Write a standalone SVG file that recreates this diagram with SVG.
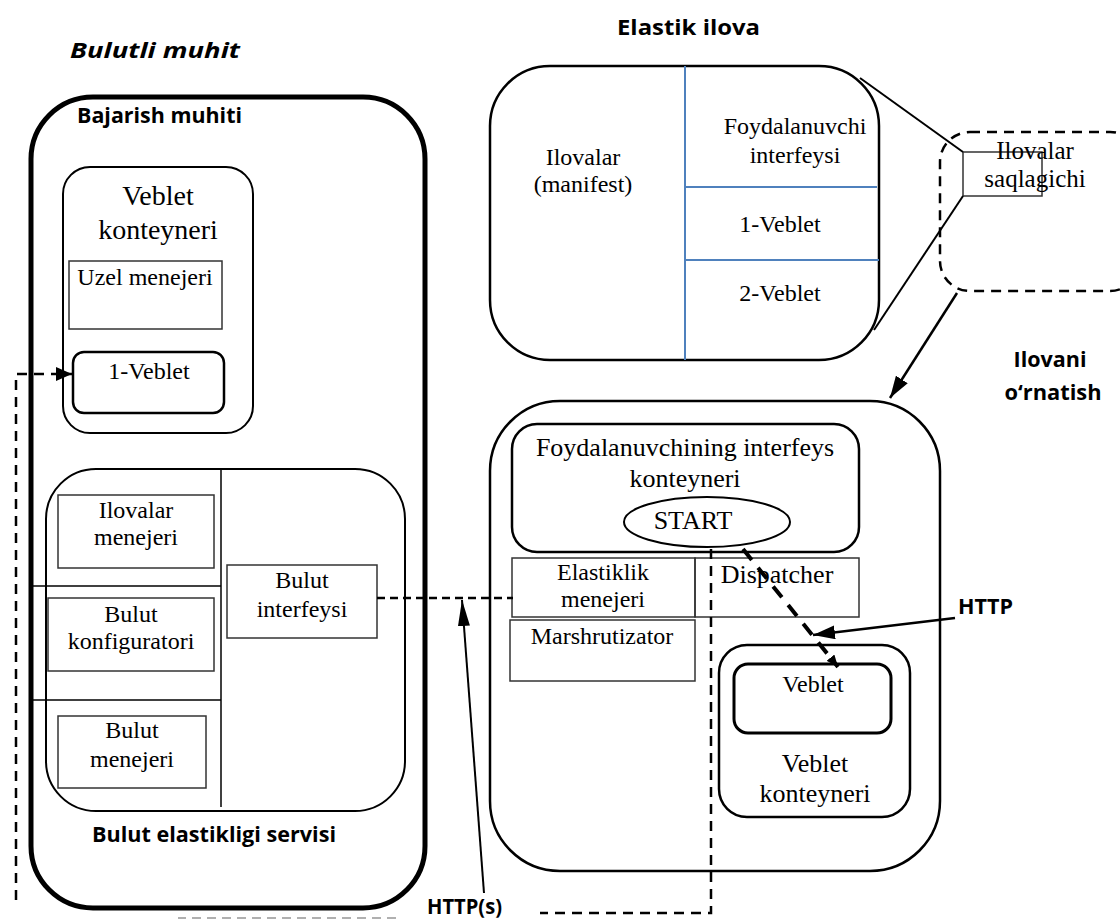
<svg xmlns="http://www.w3.org/2000/svg" width="1120" height="921" viewBox="0 0 1120 921">
<style>
.serif{font-family:"Liberation Serif","Times New Roman",serif;fill:#000;text-anchor:middle}
.s24{font-size:24px}
.s26{font-size:26px}
.s28{font-size:28px}
.bold{font-family:"Open Sans","Liberation Sans",sans-serif;font-weight:bold;fill:#000;font-size:22px}
.rbox{fill:none;stroke:#000;stroke-width:2.5}
.sq{fill:none;stroke:#333;stroke-width:1.5}
.blue{stroke:#4F81BD;stroke-width:2;fill:none}
.thin{fill:none;stroke:#000;stroke-width:1.5}
.dash{fill:none;stroke:#000;stroke-width:2.5;stroke-dasharray:10 7}
.solid{fill:none;stroke:#000;stroke-width:2}
</style>
<defs>
<marker id="ahLong" markerUnits="userSpaceOnUse" markerWidth="26" markerHeight="12" viewBox="0 0 26 12" refX="26" refY="6" orient="auto"><path d="M0,0 L26,6 L0,12 z" fill="#000"/></marker>
<marker id="ahMed" markerUnits="userSpaceOnUse" markerWidth="22" markerHeight="14" viewBox="0 0 22 14" refX="22" refY="7" orient="auto"><path d="M0,0 L22,7 L0,14 z" fill="#000"/></marker>
<marker id="ahSmall" markerUnits="userSpaceOnUse" markerWidth="16" markerHeight="14" viewBox="0 0 16 14" refX="16" refY="7" orient="auto"><path d="M0,0 L16,7 L0,14 z" fill="#000"/></marker>
<marker id="ahTiny" markerUnits="userSpaceOnUse" markerWidth="12" markerHeight="10" viewBox="0 0 12 10" refX="12" refY="5" orient="auto"><path d="M0,0 L12,5 L0,10 z" fill="#000"/></marker>
</defs>
<rect width="1120" height="921" fill="#fff"/>

<g id="title-bulutli-muhit">
<text class="bold" x="70" y="58" font-style="italic" font-size="26" textLength="170" lengthAdjust="spacingAndGlyphs">Bulutli muhit</text>
</g>

<g id="bajarish-muhiti">
<rect x="31" y="97" width="394" height="811" rx="62" fill="none" stroke="#000" stroke-width="5"/>
<text class="bold" x="77" y="123" textLength="165" lengthAdjust="spacingAndGlyphs">Bajarish muhiti</text>
</g>

<g id="veblet-konteyneri-left">
<rect class="thin" x="63" y="167" width="190" height="266" rx="27" style="stroke-width:2"/>
<text class="serif s28" x="158" y="205">Veblet</text>
<text class="serif s28" x="158" y="239">konteyneri</text>
</g>

<g id="uzel-menejeri">
<rect class="sq" x="69" y="261" width="153" height="68"/>
<text class="serif s24" x="145" y="285">Uzel menejeri</text>
</g>

<g id="veblet-1-left">
<rect class="rbox" x="73" y="352" width="151" height="61" rx="11"/>
<text class="serif s24" x="149" y="379">1-Veblet</text>
</g>

<g id="bulut-elastikligi-servisi">
<rect x="46" y="469" width="359" height="342" rx="50" fill="none" stroke="#000" stroke-width="2"/>
<line class="thin" x1="221" y1="469" x2="221" y2="807"/>
<line class="thin" x1="33" y1="586" x2="221" y2="586"/>
<line class="thin" x1="33" y1="700" x2="221" y2="700"/>
<text class="bold" x="92" y="842" textLength="244" lengthAdjust="spacingAndGlyphs">Bulut elastikligi servisi</text>
</g>

<g id="ilovalar-menejeri">
<rect class="sq" x="58" y="495" width="156" height="73"/>
<text class="serif s24" x="136" y="518">Ilovalar</text>
<text class="serif s24" x="136" y="545">menejeri</text>
</g>

<g id="bulut-konfiguratori">
<rect class="sq" x="48" y="598" width="166" height="73"/>
<text class="serif s24" x="131" y="622">Bulut</text>
<text class="serif s24" x="131" y="649">konfiguratori</text>
</g>

<g id="bulut-menejeri">
<rect class="sq" x="58" y="716" width="148" height="72"/>
<text class="serif s24" x="132" y="738">Bulut</text>
<text class="serif s24" x="132" y="767">menejeri</text>
</g>

<g id="bulut-interfeysi">
<rect class="sq" x="227" y="565" width="150" height="73"/>
<text class="serif s24" x="302" y="588">Bulut</text>
<text class="serif s24" x="302" y="617">interfeysi</text>
</g>

<g id="elastik-ilova">
<text class="bold" x="617" y="35" font-size="23" textLength="143" lengthAdjust="spacingAndGlyphs">Elastik ilova</text>
<rect class="rbox" x="490" y="66" width="389" height="294" rx="60"/>
<line class="blue" x1="685" y1="66" x2="685" y2="360"/>
<line class="blue" x1="685" y1="187" x2="877" y2="187"/>
<line class="blue" x1="685" y1="260" x2="879" y2="260"/>
<text class="serif s24" x="583" y="165">Ilovalar</text>
<text class="serif s24" x="583" y="192">(manifest)</text>
<text class="serif s24" x="795" y="134">Foydalanuvchi</text>
<text class="serif s24" x="795" y="163">interfeysi</text>
<text class="serif s24" x="780" y="232">1-Veblet</text>
<text class="serif s24" x="780" y="301">2-Veblet</text>
</g>

<g id="ilovalar-saqlagichi">
<rect x="940" y="132" width="200" height="159" rx="30" fill="none" stroke="#000" stroke-width="2.5" stroke-dasharray="10 7"/>
<rect class="sq" x="963" y="152" width="79" height="44"/>
<text class="serif" x="1035" y="159" font-size="25">Ilovalar</text>
<text class="serif" x="1035" y="187" font-size="25">saqlagichi</text>
</g>

<g id="joylashtirish-muhiti">
<rect class="rbox" x="490" y="401" width="450" height="470" rx="70"/>
</g>

<g id="foydalanuvchi-interfeys-konteyneri">
<rect class="rbox" x="512" y="424" width="347" height="128" rx="25"/>
<text class="serif s26" x="685" y="456">Foydalanuvchining interfeys</text>
<text class="serif s26" x="685" y="487">konteyneri</text>
</g>

<g id="start">
<ellipse cx="707" cy="522" rx="83" ry="25" fill="none" stroke="#000" stroke-width="2"/>
<text class="serif s26" x="693" y="529">START</text>
</g>

<g id="elastiklik-menejeri">
<rect class="sq" x="512" y="558" width="183" height="59"/>
<text class="serif s24" x="603" y="580">Elastiklik</text>
<text class="serif s24" x="603" y="607">menejeri</text>
</g>

<g id="dispatcher">
<rect class="sq" x="695" y="558" width="164" height="59"/>
<text class="serif s26" x="777" y="583">Dispatcher</text>
</g>

<g id="marshrutizator">
<rect class="sq" x="510" y="620" width="185" height="61"/>
<text class="serif s24" x="602" y="644">Marshrutizator</text>
</g>

<g id="veblet-konteyneri-right">
<rect class="rbox" x="719" y="645" width="191" height="172" rx="28"/>
<text class="serif s26" x="815" y="772">Veblet</text>
<text class="serif s26" x="815" y="802">konteyneri</text>
</g>

<g id="veblet-right">
<rect x="734" y="664" width="157" height="69" rx="14" fill="none" stroke="#000" stroke-width="3"/>
<text class="serif s24" x="813" y="692">Veblet</text>
</g>

<g id="connectors">
<line class="solid" x1="860" y1="78" x2="963" y2="152"/>
<line class="solid" x1="963" y1="196" x2="874" y2="330"/>
<line x1="957" y1="293" x2="890" y2="398" stroke="#000" stroke-width="2.5" marker-end="url(#ahMed)"/>
<line class="dash" x1="377" y1="598" x2="513" y2="598" style="stroke-dasharray:8 5"/>
<line x1="484" y1="893" x2="462" y2="600" stroke="#000" stroke-width="2" marker-end="url(#ahLong)"/>
<line x1="955" y1="618" x2="813" y2="635" stroke="#000" stroke-width="2.5" marker-end="url(#ahMed)"/>
<line x1="743" y1="549" x2="838" y2="667" stroke="#000" stroke-width="4" stroke-dasharray="14 10" marker-end="url(#ahTiny)"/>
<path class="dash" d="M711,549 V913 H540" style="stroke-dasharray:10 7"/>
<path d="M396,918 H178" fill="none" stroke="#b0b0b0" stroke-width="2" stroke-dasharray="9 6"/>
<path class="dash" d="M16,900 V374 H72" marker-end="url(#ahSmall)"/>
</g>

<g id="labels">
<text class="bold" x="1050" y="367" text-anchor="middle" textLength="73" lengthAdjust="spacingAndGlyphs">Ilovani</text>
<text class="bold" x="1053" y="400" text-anchor="middle" textLength="97" lengthAdjust="spacingAndGlyphs">o‘rnatish</text>
<text class="bold" x="958" y="614" textLength="55" lengthAdjust="spacingAndGlyphs">HTTP</text>
<text class="bold" x="427" y="914" font-size="19" textLength="75" lengthAdjust="spacingAndGlyphs">HTTP(s)</text>
</g>
</svg>
